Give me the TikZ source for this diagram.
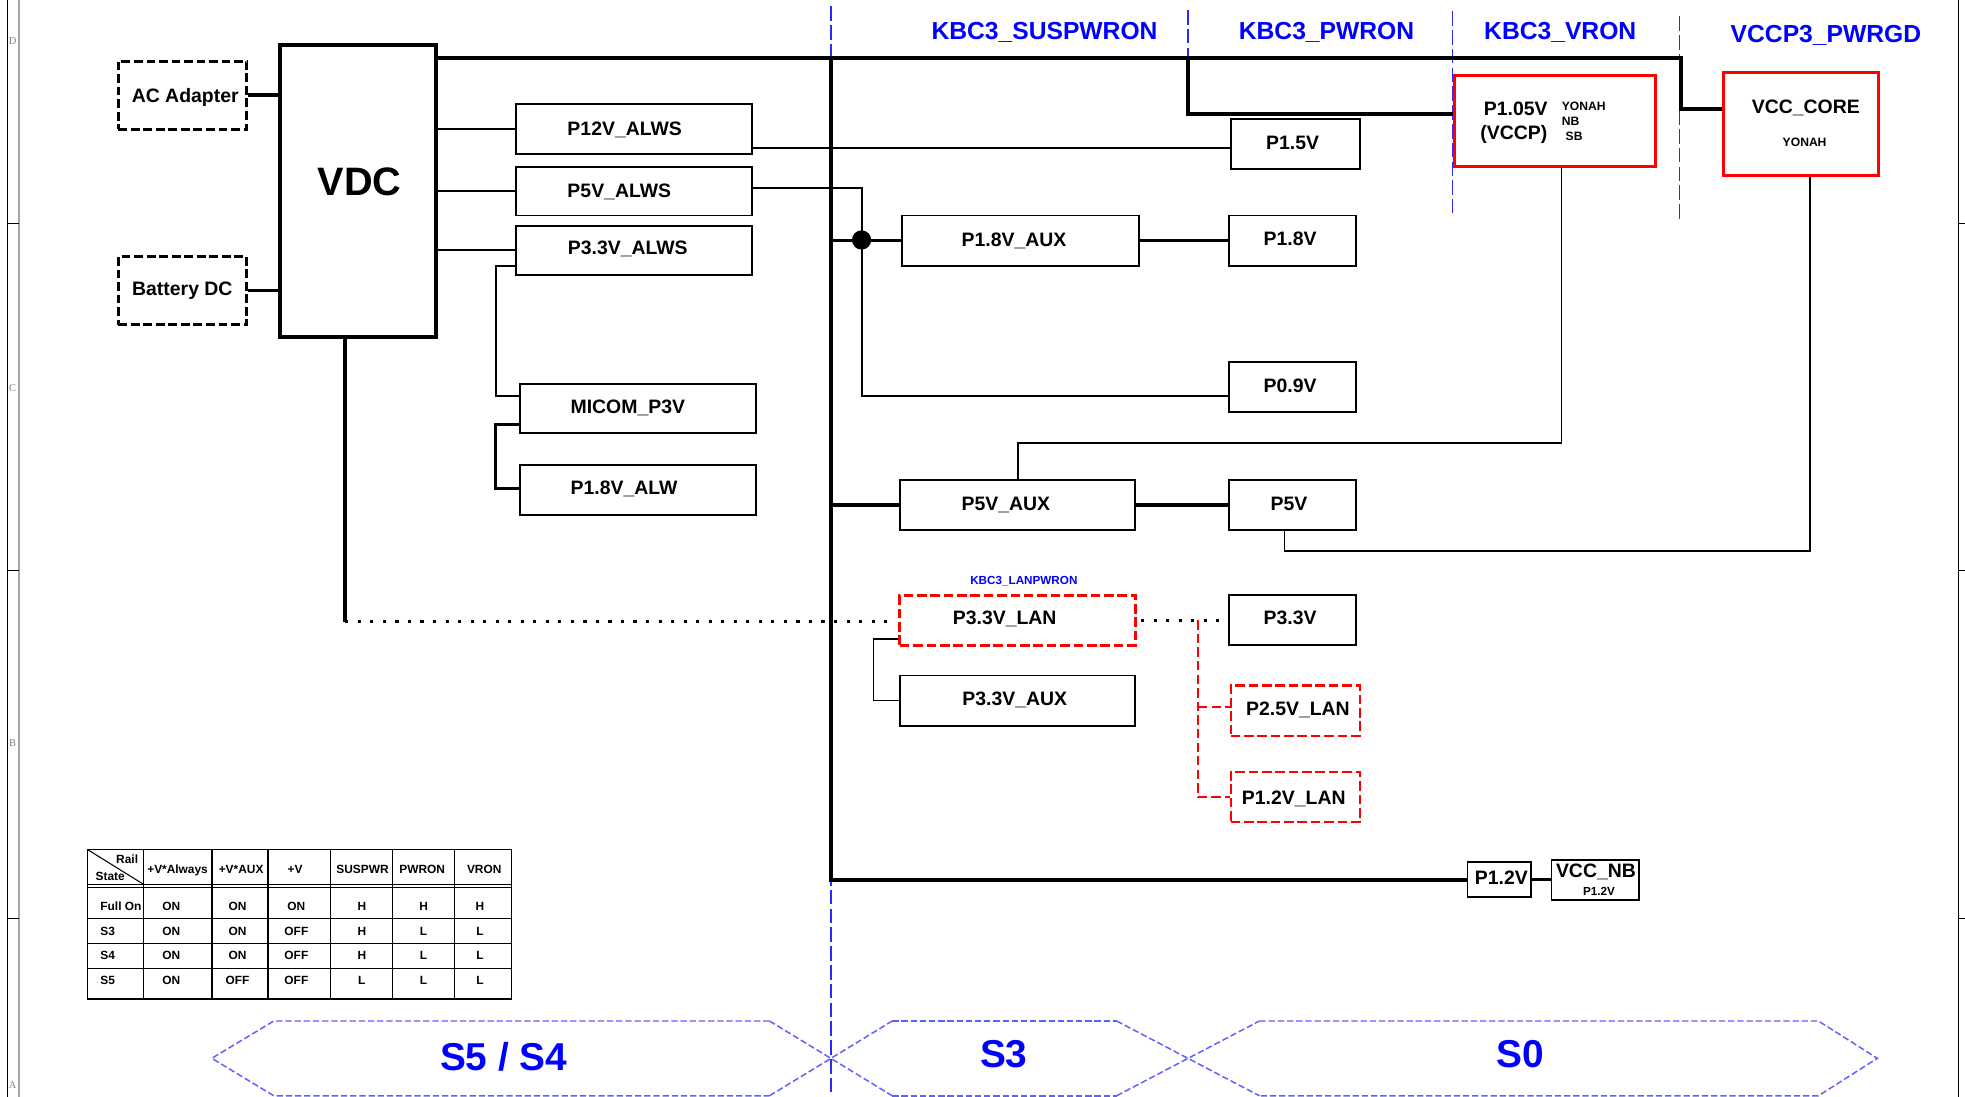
\documentclass[tikz,border=0pt]{standalone}
\usepackage{fontspec}
\setmainfont{Liberation Sans}
\newfontfamily\brdfont{Liberation Serif}
\usetikzlibrary{fit}
\definecolor{kblue}{RGB}{0,0,255}
\definecolor{vblue}{RGB}{40,40,255}
\definecolor{cblue}{RGB}{95,95,255}
\definecolor{kred}{RGB}{255,0,0}
\newcommand\fA{\fontsize{9.3pt}{11pt}\selectfont\bfseries}
\newcommand\fVDC{\fontsize{19pt}{22pt}\selectfont\bfseries}
\newcommand\fK{\fontsize{11.8pt}{14pt}\selectfont\bfseries}
\newcommand\fS{\fontsize{5.8pt}{7pt}\selectfont\bfseries}
\newcommand\fT{\fontsize{5.7pt}{7pt}\selectfont\bfseries}
\newcommand\fST{\fontsize{18.6pt}{22pt}\selectfont\bfseries}
\tikzset{
  box/.style={draw, line width=0.9pt, inner sep=0pt},
  vdcbox/.style={draw, line width=1.7pt, inner sep=0pt},
  dbox/.style={draw, line width=1.45pt, dash pattern=on 4.2pt off 1.8pt, inner sep=0pt},
  rbox/.style={draw=kred, line width=1.45pt, inner sep=0pt},
  rdbox/.style={draw=kred, line width=1.4pt, dash pattern=on 4.6pt off 1.8pt, inner sep=0pt},
  rdbox2/.style={draw=kred, line width=1pt, dash pattern=on 4.6pt off 1.8pt, inner sep=0pt},
  lbl/.style={font=\fA, inner sep=0pt, text height=6.66pt, text depth=0pt},
  lblb/.style={font=\fA, inner sep=0pt, anchor=base},
  small/.style={font=\fS, inner sep=0pt},
  klab/.style={font=\fK, text=kblue, inner sep=0pt, anchor=base},
  tc/.style={font=\fT, inner sep=0pt, text height=4.08pt, text depth=0pt},
  thn/.style={line width=0.9pt},
  mid/.style={line width=1.45pt},
  thk/.style={line width=1.6pt},
  bus/.style={line width=1.9pt},
  dotl/.style={line width=1.5pt, dash pattern=on 1.5pt off 4.5pt},
  rdl/.style={draw=kred, line width=1pt, dash pattern=on 4.5pt off 2pt},
  bdash/.style={draw=vblue, line width=0.7pt, dash pattern=on 7pt off 2pt},
  chev/.style={draw=cblue, line width=0.7pt, dash pattern=on 3pt off 1.4pt},
  tbl/.style={line width=0.7pt},
  stl/.style={font=\fST, text=kblue, inner sep=0pt, anchor=base},
  brd/.style={font=\brdfont\fontsize{5pt}{6pt}\selectfont, text=gray, inner sep=0pt}
}
\begin{document}
\begin{tikzpicture}[x=0.6pt,y=-0.6pt]
\useasboundingbox (0,0) rectangle (1568,875);
\fill[white] (0,0) rectangle (1568,875);

% ---------- sheet border ----------
\draw[line width=0.6pt] (5.8,0) -- (5.8,875);
\draw[line width=0.8pt, gray!70] (15,0) -- (15,875);
\foreach \yy in {178,455,733} \draw[line width=0.5pt] (5.8,\yy) -- (15,\yy);
\node[brd] (bD) at (10,33) {D};
\node[brd] (bC) at (10,310) {C};
\node[brd] (bB) at (10,593) {B};
\node[brd] (bA) at (10,866) {A};
\draw[line width=0.6pt] (1562.5,0) -- (1562.5,875);
\foreach \yy in {178,455,733} \draw[line width=0.5pt] (1562.5,\yy) -- (1568,\yy);

% ---------- blue dashed state boundaries ----------
\draw[bdash] (663,5) -- (663,872);
\draw[bdash] (948,8) -- (948,46);
\draw[bdash] (1159,9) -- (1159,170);
\draw[bdash] (1340,13) -- (1340,175);

\node[klab] (ksus) at (833.5,31.4) {KBC3\_SUSPWRON};
\node[klab] (kpw)  at (1058.5,31.4) {KBC3\_PWRON};
\node[klab] (kvr)  at (1245,31.4) {KBC3\_VRON};
\node[klab] (kpg)  at (1457,34) {VCCP3\_PWRGD};

% ---------- boxes ----------
\node[dbox, fit={(94.4,48.7) (197,103)}] (ac) {};
\node[lbl] (act) at (147.8,76.2) {AC Adapter};
\node[dbox, fit={(94.4,204.8) (197,259.3)}] (bat) {};
\node[lbl] (batt) at (145.5,230.4) {Battery DC};

\node[vdcbox, fit={(223.4,36) (348,269)}] (vdc) {};
\node[font=\fVDC, inner sep=0pt, text height=13.6pt, text depth=0pt] (vdct) at (287,145) {VDC};

\node[box, fit={(412,83) (600,123)}] (p12) {};
\node[lbl, anchor=west] (p12t) at (452.5,102.5) {P12V\_ALWS};
\node[box, fit={(412,133) (600,172)}] (p5a) {};
\node[lbl, anchor=west] (p5at) at (452.5,152) {P5V\_ALWS};
\node[box, fit={(412,180) (600,219.5)}] (p33a) {};
\node[lbl, anchor=west] (p33at) at (452.8,197.5) {P3.3V\_ALWS};
\node[box, fit={(415,306.5) (603,345.7)}] (micom) {};
\node[lbl, anchor=west] (micomt) at (455,324.5) {MICOM\_P3V};
\node[box, fit={(415,371) (603,411)}] (p18alw) {};
\node[lbl, anchor=west] (p18alwt) at (455,389) {P1.8V\_ALW};

\node[box, fit={(720,172) (909,212)}] (p18aux) {};
\node[lbl, anchor=west] (p18auxt) at (767,191) {P1.8V\_AUX};
\node[box, fit={(981,172) (1082,212)}] (p18) {};
\node[lbl, anchor=west] (p18t) at (1008,190.5) {P1.8V};
\node[box, fit={(982,95) (1085,135)}] (p15) {};
\node[lbl, anchor=west] (p15t) at (1010,113.5) {P1.5V};
\node[box, fit={(981,289) (1082,329)}] (p09) {};
\node[lbl, anchor=west] (p09t) at (1008,307.5) {P0.9V};

\node[rbox, fit={(1161,60.6) (1321,132.5)}] (p105) {};
\node[lblb] (p105a) at (1209.5,92) {P1.05V};
\node[lblb] (p105b) at (1208,111) {(VCCP)};
\node[small, anchor=base west] (yon1) at (1246,88) {YONAH};
\node[small, anchor=base west] (nb1) at (1246,100) {NB};
\node[small, anchor=base west] (sb1) at (1249,112.5) {SB};

\node[rbox, fit={(1375,58) (1499,140)}] (vcore) {};
\node[lblb] (vcoret) at (1441,90.3) {VCC\_CORE};
\node[small, anchor=base] (yon2) at (1440,117.3) {YONAH};

\node[box, fit={(718,383) (906,423)}] (p5aux) {};
\node[lbl, anchor=west] (p5auxt) at (767,401.7) {P5V\_AUX};
\node[box, fit={(981,383) (1082,423)}] (p5) {};
\node[lbl, anchor=west] (p5t) at (1013.5,401.7) {P5V};

\node[small, text=kblue, font=\fontsize{5.6pt}{7pt}\selectfont\bfseries, text height=4pt, text depth=0pt] (lanpw) at (817,463) {KBC3\_LANPWRON};
\node[rdbox, fit={(718,475) (906,515)}] (p33lan) {};
\node[lbl, anchor=west] (p33lant) at (760,492.5) {P3.3V\_LAN};
\node[box, fit={(981,475) (1082,515)}] (p33) {};
\node[lbl, anchor=west] (p33t) at (1008,492.5) {P3.3V};
\node[box, fit={(718,539) (906,579)}] (p33aux) {};
\node[lbl, anchor=west] (p33auxt) at (767.6,557.3) {P3.3V\_AUX};
\node[rdbox2, fit={(982,547) (1085,587)}] (p25lan) {};
\node[lbl, anchor=west] (p25lant) at (994,565) {P2.5V\_LAN};
\node[rdbox2, fit={(982,616) (1085,656)}] (p12lan) {};
\node[lbl, anchor=west] (p12lant) at (990.7,636.7) {P1.2V\_LAN};

\node[box, fit={(1171,688) (1222,716)}] (p12v) {};
\node[lbl] (p12vt) at (1198,700) {P1.2V};
\node[box, fit={(1238,686) (1308,718)}] (vccnb) {};
\node[lblb] (vccnbt) at (1273.5,700) {VCC\_NB};
\node[small, anchor=base, font=\fontsize{5.6pt}{7pt}\selectfont\bfseries] (vccnbs) at (1276,714.5) {P1.2V};

% ---------- connectors ----------
\draw[thk] (ac.east) -- (ac.east -| vdc.west);
\draw[thk] (bat.east) -- (bat.east -| vdc.west);

\coordinate (tbR) at (1341.5,46);
\coordinate (mbT) at (663,46);
\coordinate (pw) at (948,46);
\draw[bus] (vdc.east |- tbR) -- (tbR) -- (tbR |- 0,87) -- (vcore.west |- 0,87);
\draw[bus] (mbT) -- (mbT |- p12v.west) -- (p12v.west);
\draw[thk] (pw) -- (pw |- 0,91) -- (p105.west |- 0,91);

\draw[thn] (vdc.east |- p12.west) -- (p12.west);
\draw[thn] (vdc.east |- p5a.west) -- (p5a.west);
\draw[thn] (vdc.east |- p33a.west) -- (p33a.west);

\draw[thn] (p12.east |- 0,118) -- (p15.west |- 0,118);
\coordinate (jn) at (687.5,191.5);
\draw[thn] (p5a.east |- 0,150) -- (jn |- 0,150) -- (jn |- 0,316) -- (p09.west |- 0,316);
\draw[thk] (mbT |- p18aux.west) -- (p18aux.west);
\fill (jn) circle[radius=4.6pt];
\draw[thk] (p18aux.east) -- (p18.west);

\draw[thn] (p33a.west |- 0,212) -- (395.5,212) -- (395.5,316) -- (micom.west |- 0,316);
\draw[mid] (micom.west |- 0,338.4) -- (395,338.4) -- (395,390) -- (p18alw.west |- 0,390);

\draw[thk] (mbT |- p5aux.west) -- (p5aux.west);
\draw[thk] (p5aux.east) -- (p5.west);
\draw[thn] (p105.south -| 1246,0) -- (1246,353.5) -- (p5aux.north |- 0,353.5) -- (p5aux.north);
\draw[thn] (vcore.south -| 1444,0) -- (1444,439.5) -- (1025,439.5) -- (p5.south -| 1025,0);

\coordinate (vb) at (275.5,496);
\draw[bus] (vdc.south -| vb) -- (vb);
\draw[dotl, shorten >=4.5pt] (vb) -- (p33lan.west |- vb);
\draw[dotl, shorten <=2pt] (p33lan.east) -- (p33.west);
\draw[thn] (p33lan.west |- 0,510) -- (697,510) -- (697,559) -- (p33aux.west);
\coordinate (rt) at (956,495);
\draw[rdl] (rt) -- (rt |- p12lan.west) -- (p12lan.west);
\draw[rdl] (rt |- 0,564) -- (p25lan.west |- 0,564);

\draw[thk] (p12v.east) -- (vccnb.west);

% ---------- state table ----------
\draw[tbl] (70,678) rectangle (408,797);
\foreach \xx in {114.6,169,214,263.7,313,362.8} \draw[tbl] (\xx,678) -- (\xx,797);
\draw[tbl] (70,705.7) -- (408,705.7);
\draw[tbl] (70,708.2) -- (408,708.2);
\foreach \yy in {732.8,752.8,772.7} \draw[tbl] (70,\yy) -- (408,\yy);
\draw[line width=0.5pt] (70,678) -- (114.6,705.7);
\node[tc, anchor=east] (hrail) at (110.5,686) {Rail};
\node[tc, anchor=west] (hstate) at (76,699) {State};
\foreach \h/\xx [count=\i] in {+V*Always/141.7, +V*AUX/192.4, +V/235.4, SUSPWR/289.3, PWRON/336.9, VRON/386.4}
  \node[tc] (h\i) at (\xx,693.5) {\h};
\foreach \lab/\yy/\a/\b/\c/\d/\e/\f [count=\i] in
  {Full On/723.5/ON/ON/ON/H/H/H, S3/742.7/ON/ON/OFF/H/L/L, S4/762.6/ON/ON/OFF/H/L/L, S5/782.5/ON/OFF/OFF/L/L/L}{
  \node[tc, anchor=west] (r\i) at (79.8,\yy) {\lab};
  \node[tc] (r\i c1) at (136.7,\yy) {\a};
  \node[tc] (r\i c2) at (189.5,\yy) {\b};
  \node[tc] (r\i c3) at (236.5,\yy) {\c};
  \node[tc] (r\i c4) at (288.7,\yy) {\d};
  \node[tc] (r\i c5) at (338,\yy) {\e};
  \node[tc] (r\i c6) at (383,\yy) {\f};
}

% ---------- state chevrons ----------
\draw[chev] (614,814.7) -- (218.5,814.7) -- (169,844.5) -- (218.5,874.4) -- (614,874.4);
\draw[chev] (614,814.7) -- (712,874.4);
\draw[chev] (614,874.4) -- (712,814.7);
\draw[chev] (712,814.7) -- (891,814.7);
\draw[chev] (712,874.4) -- (891,874.4);
\draw[chev] (891,814.7) -- (1005,874.4);
\draw[chev] (891,874.4) -- (1005,814.7);
\draw[chev] (1005,814.7) -- (1451,814.7) -- (1498,844.5) -- (1451,874.4) -- (1005,874.4);
\node[stl] (s54) at (402,854) {S5 / S4};
\node[stl] (s3) at (801,851.5) {S3};
\node[stl] (s0) at (1213,851.5) {S0};
\end{tikzpicture}
\end{document}
